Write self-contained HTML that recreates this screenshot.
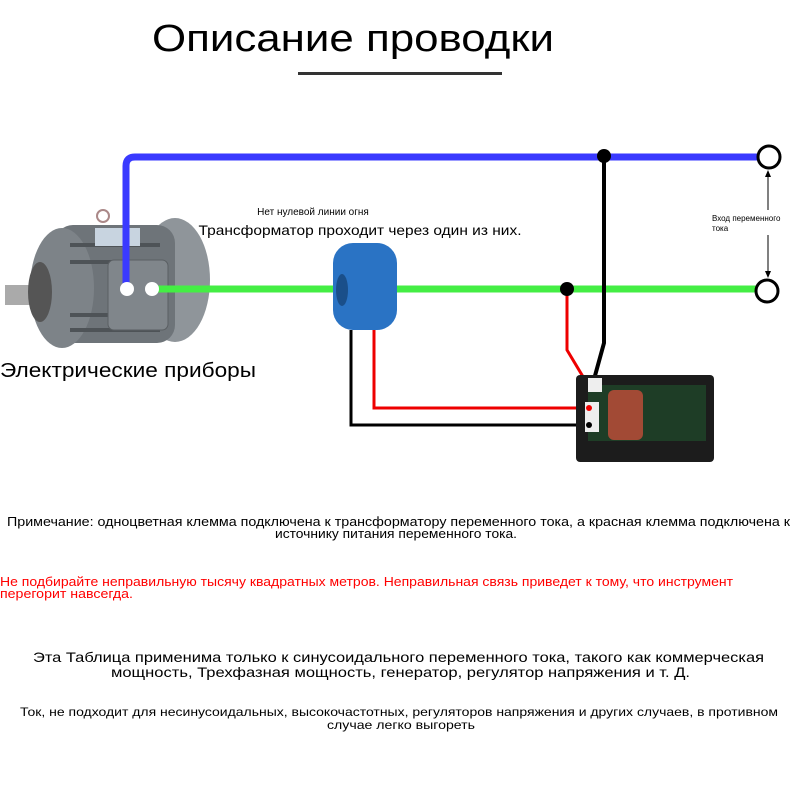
<!DOCTYPE html>
<html><head><meta charset="utf-8"><style>html,body{margin:0;padding:0;background:#fff}svg{display:block}</style></head>
<body>
<svg width="800" height="800" viewBox="0 0 800 800" xmlns="http://www.w3.org/2000/svg" font-family="Liberation Sans, DejaVu Sans, sans-serif">
<text x="353" y="51" font-size="38" text-anchor="middle" fill="#000" textLength="402" lengthAdjust="spacingAndGlyphs">Описание проводки</text>
<rect x="298" y="72" width="204" height="3" fill="#333"/>
<!-- motor -->
<g>
<rect x="5" y="285" width="40" height="20" fill="#aaa"/>
<ellipse cx="175" cy="280" rx="35" ry="62" fill="#8f959a"/>
<rect x="55" y="225" width="120" height="118" rx="18" fill="#6e7479"/>
<ellipse cx="62" cy="288" rx="32" ry="60" fill="#7d8388"/>
<ellipse cx="40" cy="292" rx="12" ry="30" fill="#555"/>
<g stroke="#4e5357" stroke-width="4"><line x1="70" y1="245" x2="160" y2="245"/><line x1="70" y1="262" x2="160" y2="262"/><line x1="70" y1="315" x2="160" y2="315"/><line x1="70" y1="330" x2="160" y2="330"/></g>
<rect x="108" y="260" width="60" height="70" rx="6" fill="#80868b" stroke="#5a5f63"/>
<rect x="95" y="228" width="45" height="18" fill="#c8d4e0"/>
<circle cx="103" cy="216" r="6" fill="none" stroke="#a88" stroke-width="2"/>
</g>
<!-- wires -->
<path d="M126 286 V166 Q126 157 135 157 H757" fill="none" stroke="#3a3aff" stroke-width="7"/>
<line x1="153" y1="289" x2="757" y2="289" stroke="#44ee44" stroke-width="7"/>
<circle cx="127" cy="289" r="7" fill="#fff"/><circle cx="152" cy="289" r="7" fill="#fff"/>
<circle cx="769" cy="157" r="11" fill="#fff" stroke="#000" stroke-width="3"/>
<circle cx="767" cy="291" r="11" fill="#fff" stroke="#000" stroke-width="3"/>
<line x1="768" y1="172" x2="768" y2="276" stroke="#000" stroke-width="1"/>
<path d="M768 170 l-3 7 h6z M768 278 l-3 -7 h6z" fill="#000"/>
<rect x="710" y="210" width="70" height="25" fill="#fff"/>
<text x="712" y="221" font-size="8">Вход переменного</text><text x="712" y="231" font-size="8">тока</text>
<polyline points="604,156 604,343 593,383" fill="none" stroke="#000" stroke-width="4"/>
<circle cx="604" cy="156" r="7" fill="#000"/>
<polyline points="567,289 567,350 588,385" fill="none" stroke="#e00" stroke-width="3"/>
<circle cx="567" cy="289" r="7" fill="#000"/>
<!-- toroid -->
<rect x="333" y="243" width="64" height="87" rx="20" fill="#2a73c4"/>
<ellipse cx="342" cy="290" rx="6" ry="16" fill="#1a4f8a"/>
<polyline points="351,330 351,425 585,425" fill="none" stroke="#000" stroke-width="3"/>
<polyline points="374,330 374,408 585,408" fill="none" stroke="#e00" stroke-width="3"/>
<!-- meter -->
<rect x="576" y="375" width="138" height="87" rx="4" fill="#1c1c1c"/>
<rect x="588" y="385" width="118" height="56" fill="#1e3d26"/>
<rect x="608" y="390" width="35" height="50" rx="6" fill="#a24a35"/>
<rect x="588" y="378" width="14" height="14" fill="#eee"/><rect x="585" y="402" width="14" height="30" fill="#eee"/>
<circle cx="589" cy="408" r="3" fill="#e00"/><circle cx="589" cy="425" r="3" fill="#000"/>
<text x="313" y="215" font-size="10" text-anchor="middle">Нет нулевой линии огня</text>
<text x="360" y="235" font-size="14" text-anchor="middle" textLength="323" lengthAdjust="spacingAndGlyphs">Трансформатор проходит через один из них.</text>
<text x="0" y="377" font-size="20" textLength="256" lengthAdjust="spacingAndGlyphs">Электрические приборы</text>
<g font-size="13">
<text x="7" y="526" textLength="783" lengthAdjust="spacingAndGlyphs">Примечание: одноцветная клемма подключена к трансформатору переменного тока, а красная клемма подключена к</text>
<text x="275" y="538" textLength="242" lengthAdjust="spacingAndGlyphs">источнику питания переменного тока.</text>
<text x="0" y="586" fill="#f00" textLength="733" lengthAdjust="spacingAndGlyphs">Не подбирайте неправильную тысячу квадратных метров. Неправильная связь приведет к тому, что инструмент</text>
<text x="0" y="598" fill="#f00" textLength="133" lengthAdjust="spacingAndGlyphs">перегорит навсегда.</text>
</g>
<g font-size="14">
<text x="33" y="662" textLength="731" lengthAdjust="spacingAndGlyphs">Эта Таблица применима только к синусоидального переменного тока, такого как коммерческая</text>
<text x="111" y="677" textLength="579" lengthAdjust="spacingAndGlyphs">мощность, Трехфазная мощность, генератор, регулятор напряжения и т. Д.</text>
</g>
<g font-size="12">
<text x="20" y="716" textLength="758" lengthAdjust="spacingAndGlyphs">Ток, не подходит для несинусоидальных, высокочастотных, регуляторов напряжения и других случаев, в противном</text>
<text x="327" y="729" textLength="148" lengthAdjust="spacingAndGlyphs">случае легко выгореть</text>
</g>
</svg>
</body></html>
